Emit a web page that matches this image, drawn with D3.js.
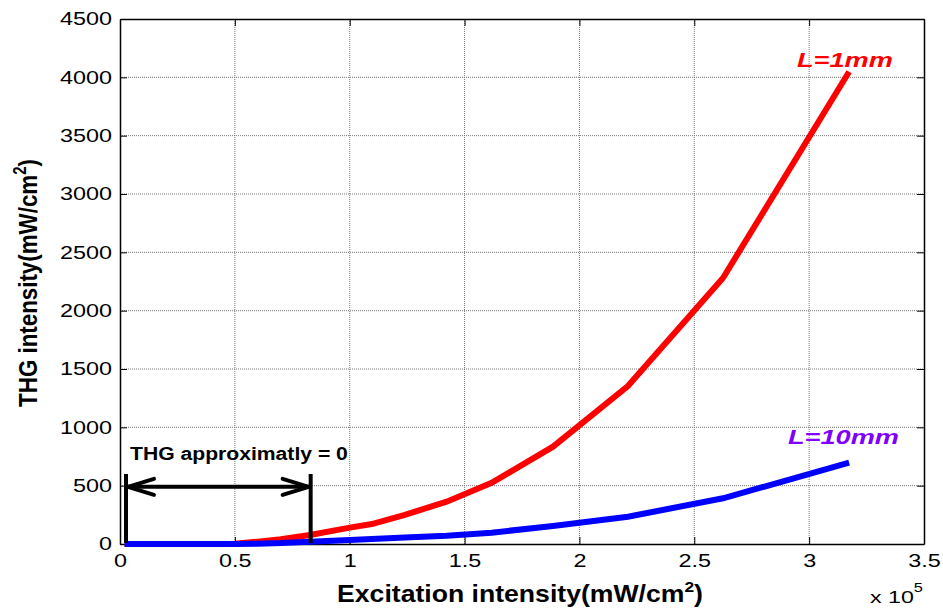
<!DOCTYPE html>
<html><head><meta charset="utf-8">
<script src="https://cdn.jsdelivr.net/npm/d3@7"></script>
<style>body{margin:0;background:#fff}svg{display:block}text{font-family:"Liberation Sans",Arial,sans-serif}</style>
</head><body><svg id="c" width="943" height="610"></svg>
<script>
const xValues = [0.02, 0.3, 0.5, 0.6, 0.7, 0.827, 1.0, 1.096, 1.24, 1.422, 1.618, 1.885, 2.211, 2.625, 3.174];
const redL1mm = [0, 0, 3, 20, 40, 77, 140, 171, 250, 363, 525, 834, 1354, 2280, 4048];
const blueL10mm = [0, 0, 0, 3, 8, 20, 35, 42, 55, 70, 97, 155, 234, 392, 697];
const xTicks = [0, 0.5, 1, 1.5, 2, 2.5, 3, 3.5];
const yTicks = [0, 500, 1000, 1500, 2000, 2500, 3000, 3500, 4000, 4500];
const bracket = [0.026, 0.83];
const arrowY = 490;

const svg = d3.select("#c");
const L = 120, R = 924, T = 19, B = 544;
const x = d3.scaleLinear().domain([0, 3.5]).range([L, R]);
const y = d3.scaleLinear().domain([0, 4500]).range([B, T]);
const SX = 1.3;

// grid
const g = svg.append("g");
g.selectAll(".gx").data(xTicks.slice(1, -1)).enter().append("line")
  .attr("x1", d => x(d)).attr("x2", d => x(d)).attr("y1", T).attr("y2", B)
  .attr("stroke", "#777").attr("stroke-width", 1).attr("stroke-dasharray", "1,1");
g.selectAll(".gy").data(yTicks.slice(1, -1)).enter().append("line")
  .attr("y1", d => y(d)).attr("y2", d => y(d)).attr("x1", L).attr("x2", R)
  .attr("stroke", "#777").attr("stroke-width", 1).attr("stroke-dasharray", "1,1");

// axes
const fmt = d => String(d);
const xa = svg.append("g").attr("transform", `translate(0,${B})`)
  .call(d3.axisBottom(x).tickValues(xTicks).tickFormat(fmt).tickSizeInner(-7).tickSizeOuter(0).tickPadding(10));
const xt = svg.append("g").attr("transform", `translate(0,${T})`)
  .call(d3.axisTop(x).tickValues(xTicks).tickFormat("").tickSizeInner(-7).tickSizeOuter(0));
const ya = svg.append("g").attr("transform", `translate(${L},0)`)
  .call(d3.axisLeft(y).tickValues(yTicks).tickFormat(fmt).tickSizeInner(-7).tickSizeOuter(0).tickPadding(8));
const yr = svg.append("g").attr("transform", `translate(${R},0)`)
  .call(d3.axisRight(y).tickValues(yTicks).tickFormat("").tickSizeInner(-7).tickSizeOuter(0));
[xa, xt, ya, yr].forEach(a => {
  a.selectAll(".domain").attr("stroke", "#000").attr("stroke-width", 1.5);
  a.selectAll(".tick line").attr("stroke", "#000").attr("stroke-width", 1);
  a.selectAll("text").attr("font-size", 18).attr("fill", "#000").attr("font-family", '"Liberation Sans",Arial,sans-serif');
});
// horizontal stretch of tick labels (reference is wider-set)
xa.selectAll(".tick text").attr("transform", `scale(${SX},1)`);
ya.selectAll(".tick text").each(function () {
  const t = d3.select(this);
  t.attr("x", +t.attr("x") / SX).attr("transform", `scale(${SX},1)`);
});

// lines
const line = d3.line().x(d => x(d[0])).y(d => y(d[1]));
svg.append("path").datum(xValues.map((v, i) => [v, redL1mm[i]]))
  .attr("d", line).attr("fill", "none").attr("stroke", "#ff0000").attr("stroke-width", 6);
svg.append("path").datum(xValues.map((v, i) => [v, blueL10mm[i]]))
  .attr("d", line).attr("fill", "none").attr("stroke", "#0000ff").attr("stroke-width", 6);

// annotation bracket
bracket.forEach(v => {
  svg.append("line").attr("x1", x(v)).attr("x2", x(v)).attr("y1", 474).attr("y2", 543)
    .attr("stroke", "#000").attr("stroke-width", 4);
});
const ay = y(arrowY);
const x0 = x(bracket[0]) + 2, x1 = x(bracket[1]) - 2;
svg.append("line").attr("x1", x0).attr("x2", x1).attr("y1", ay).attr("y2", ay)
  .attr("stroke", "#000").attr("stroke-width", 4);
svg.append("path").attr("d", `M${x0 + 26},${ay - 8} L${x0},${ay} L${x0 + 26},${ay + 8}`)
  .attr("fill", "none").attr("stroke", "#000").attr("stroke-width", 4).attr("stroke-linejoin", "round").attr("stroke-linecap", "round");
svg.append("path").attr("d", `M${x1 - 26},${ay - 8} L${x1},${ay} L${x1 - 26},${ay + 8}`)
  .attr("fill", "none").attr("stroke", "#000").attr("stroke-width", 4).attr("stroke-linejoin", "round").attr("stroke-linecap", "round");

// helper: place text in a group, fit its length to a target width
function fitted(tx, ty, rot, anchor, targetW, crossScale, build) {
  const gg = svg.append("g");
  const t = gg.append("text").attr("text-anchor", anchor).attr("x", 0).attr("y", 0);
  build(t);
  const w = t.node().getComputedTextLength();
  const sx = targetW / w;
  gg.attr("transform", `translate(${tx},${ty}) rotate(${rot}) scale(${sx},${crossScale})`);
  return t;
}

fitted(130, 460, 0, "start", 218, 1, t => t.attr("font-size", 18).attr("font-weight", "bold")
  .attr("fill", "#000").text("THG approximatly = 0"));

// series labels
fitted(797, 67, 0, "start", 96, 1, t => t.attr("font-size", 21).attr("font-weight", "bold")
  .attr("font-style", "italic").attr("fill", "#ff0000").text("L=1mm"));
fitted(788, 444, 0, "start", 111, 1, t => t.attr("font-size", 21).attr("font-weight", "bold")
  .attr("font-style", "italic").attr("fill", "#8000ff").text("L=10mm"));

// axis titles
fitted(520, 602, 0, "middle", 366, 1, t => {
  t.attr("font-size", 23).attr("font-weight", "bold").attr("fill", "#000");
  t.append("tspan").text("Excitation intensity(mW/cm");
  t.append("tspan").attr("dy", -10).attr("font-size", 15).text("2");
  t.append("tspan").attr("dy", 10).text(")");
});
fitted(37, 283, -90, "middle", 248, 1.25, t => {
  t.attr("font-size", 21).attr("font-weight", "bold").attr("fill", "#000");
  t.append("tspan").text("THG intensity(mW/cm");
  t.append("tspan").attr("dy", -9).attr("font-size", 14).text("2");
  t.append("tspan").attr("dy", 9).text(")");
});

fitted(870, 603, 0, "start", 53, 1, t => {
  t.attr("font-size", 17).attr("fill", "#000");
  t.append("tspan").text("x 10");
  t.append("tspan").attr("dy", -11).attr("font-size", 12).text("5");
});
</script></body></html>
